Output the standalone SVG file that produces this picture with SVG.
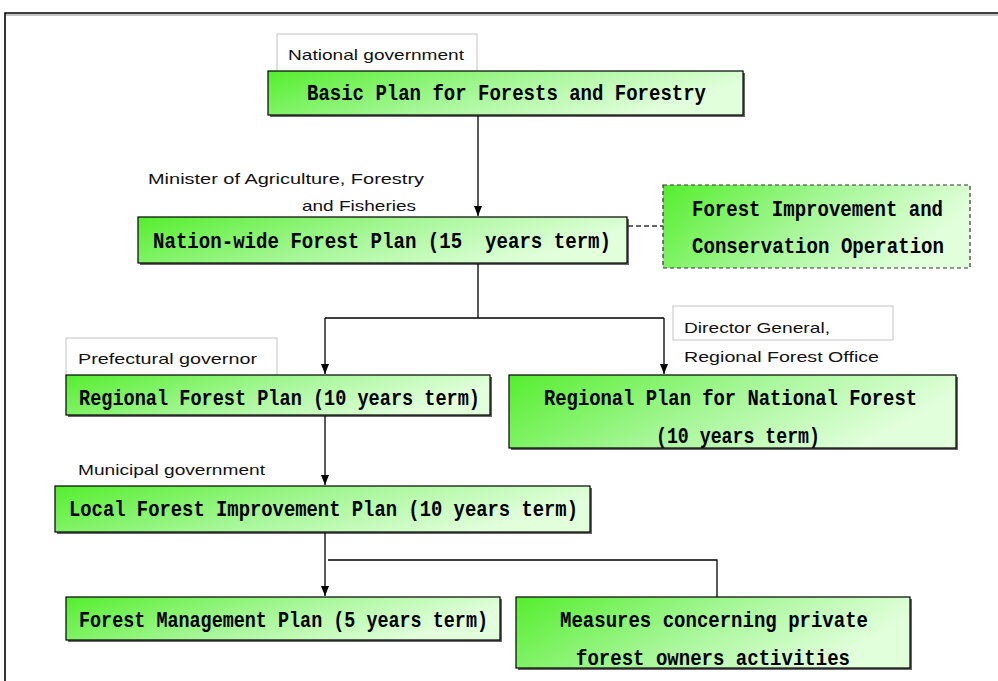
<svg xmlns="http://www.w3.org/2000/svg" width="998" height="681" viewBox="0 0 998 681">
<defs>
<linearGradient id="g" x1="0" y1="0" x2="1" y2="0.3">
<stop offset="0" stop-color="#55ee2e"/>
<stop offset="0.55" stop-color="#a8f79a"/>
<stop offset="1" stop-color="#e2ffdc"/>
</linearGradient>
<marker id="ah" viewBox="0 0 10 8" refX="10" refY="4" markerWidth="10" markerHeight="8" markerUnits="userSpaceOnUse" orient="auto">
<path d="M0,0 L10,4 L0,8 Z" fill="#000"/>
</marker>
</defs>
<style>
.box{fill:url(#g);stroke:#000;stroke-width:1.2}
.sh{fill:#666}
.dbox{fill:url(#g);stroke:#333;stroke-width:1.2;stroke-dasharray:4,3}
.lbl{fill:#fff;stroke:#c4c4c4;stroke-width:1}
.bt{font-family:"Liberation Mono",monospace;font-weight:bold;font-size:22px;fill:#000;white-space:pre}
.st{font-family:"Liberation Sans",Arial,sans-serif;font-size:15px;fill:#111}
.ln{fill:none;stroke:#000;stroke-width:1.3}
.dl{fill:none;stroke:#333;stroke-width:1.3;stroke-dasharray:5,3}
</style>
<rect width="998" height="681" fill="#fff"/>
<path d="M5,681 L5,13 L998,13" fill="none" stroke="#000" stroke-width="1.6"/>
<line x1="6" y1="15" x2="998" y2="15" stroke="#888" stroke-width="1"/>

<g id="lbl-national">
<rect class="lbl" x="277" y="34" width="200" height="38"/>
<text class="st" x="288" y="60" textLength="176" lengthAdjust="spacingAndGlyphs">National government</text>
</g>

<g id="basic-plan">
<rect class="sh" x="270" y="73" width="475" height="44"/>
<rect class="box" x="268" y="71" width="475" height="44"/>
<text class="bt" x="307" y="100" textLength="399" lengthAdjust="spacingAndGlyphs">Basic Plan for Forests and Forestry</text>
</g>

<g id="lbl-minister">
<text class="st" x="148" y="184" textLength="276" lengthAdjust="spacingAndGlyphs">Minister of Agriculture, Forestry</text>
<text class="st" x="302" y="211" textLength="114" lengthAdjust="spacingAndGlyphs">and Fisheries</text>
</g>

<g id="nationwide-plan">
<rect class="sh" x="140" y="219" width="489" height="46"/>
<rect class="box" x="138" y="217" width="489" height="46"/>
<text class="bt" x="153" y="248" textLength="458" lengthAdjust="spacingAndGlyphs">Nation-wide Forest Plan (15  years term)</text>
</g>

<g id="forest-improvement">
<rect class="dbox" x="663" y="185" width="307" height="83"/>
<text class="bt" x="692" y="216" textLength="251" lengthAdjust="spacingAndGlyphs">Forest Improvement and</text>
<text class="bt" x="692" y="253" textLength="252" lengthAdjust="spacingAndGlyphs">Conservation Operation</text>
</g>

<g id="lbl-prefectural">
<rect class="lbl" x="66" y="338" width="211" height="40"/>
<text class="st" x="78" y="364" textLength="179" lengthAdjust="spacingAndGlyphs">Prefectural governor</text>
</g>

<g id="regional-forest-plan">
<rect class="sh" x="68" y="377" width="424" height="40"/>
<rect class="box" x="66" y="375" width="424" height="40"/>
<text class="bt" x="79" y="405" textLength="401" lengthAdjust="spacingAndGlyphs">Regional Forest Plan (10 years term)</text>
</g>

<g id="lbl-director">
<rect class="lbl" x="673" y="306" width="220" height="34"/>
<text class="st" x="684" y="333" textLength="146" lengthAdjust="spacingAndGlyphs">Director General,</text>
<text class="st" x="684" y="362" textLength="195" lengthAdjust="spacingAndGlyphs">Regional Forest Office</text>
</g>

<g id="regional-national-plan">
<rect class="sh" x="511" y="377" width="447" height="73"/>
<rect class="box" x="509" y="375" width="447" height="73"/>
<text class="bt" x="544" y="405" textLength="373" lengthAdjust="spacingAndGlyphs">Regional Plan for National Forest</text>
<text class="bt" x="656" y="443" textLength="164" lengthAdjust="spacingAndGlyphs">(10 years term)</text>
</g>

<g id="lbl-municipal">
<text class="st" x="78" y="475" textLength="187" lengthAdjust="spacingAndGlyphs">Municipal government</text>
</g>

<g id="local-plan">
<rect class="sh" x="57" y="488" width="535" height="46"/>
<rect class="box" x="55" y="486" width="535" height="46"/>
<text class="bt" x="69" y="516" textLength="509" lengthAdjust="spacingAndGlyphs">Local Forest Improvement Plan (10 years term)</text>
</g>

<g id="forest-management-plan">
<rect class="sh" x="68" y="599" width="434" height="43"/>
<rect class="box" x="66" y="597" width="434" height="43"/>
<text class="bt" x="79" y="627" textLength="409" lengthAdjust="spacingAndGlyphs">Forest Management Plan (5 years term)</text>
</g>

<g id="measures">
<rect class="sh" x="518" y="599" width="394" height="71"/>
<rect class="box" x="516" y="597" width="394" height="71"/>
<text class="bt" x="560" y="627" textLength="308" lengthAdjust="spacingAndGlyphs">Measures concerning private</text>
<text class="bt" x="576" y="665" textLength="274" lengthAdjust="spacingAndGlyphs">forest owners activities</text>
</g>

<g id="connectors">
<line class="ln" x1="478" y1="116" x2="478" y2="216" marker-end="url(#ah)"/>
<line class="dl" x1="628" y1="226" x2="663" y2="226"/>
<path class="ln" d="M478,264 L478,318 M325,318 L664,318"/>
<line class="ln" x1="325" y1="318" x2="325" y2="374" marker-end="url(#ah)"/>
<line class="ln" x1="664" y1="318" x2="664" y2="374" marker-end="url(#ah)"/>
<line class="ln" x1="325" y1="416" x2="325" y2="485" marker-end="url(#ah)"/>
<line class="ln" x1="325" y1="533" x2="325" y2="596" marker-end="url(#ah)"/>
<path class="ln" d="M328,560 L717,560 L717,597"/>
</g>
</svg>
